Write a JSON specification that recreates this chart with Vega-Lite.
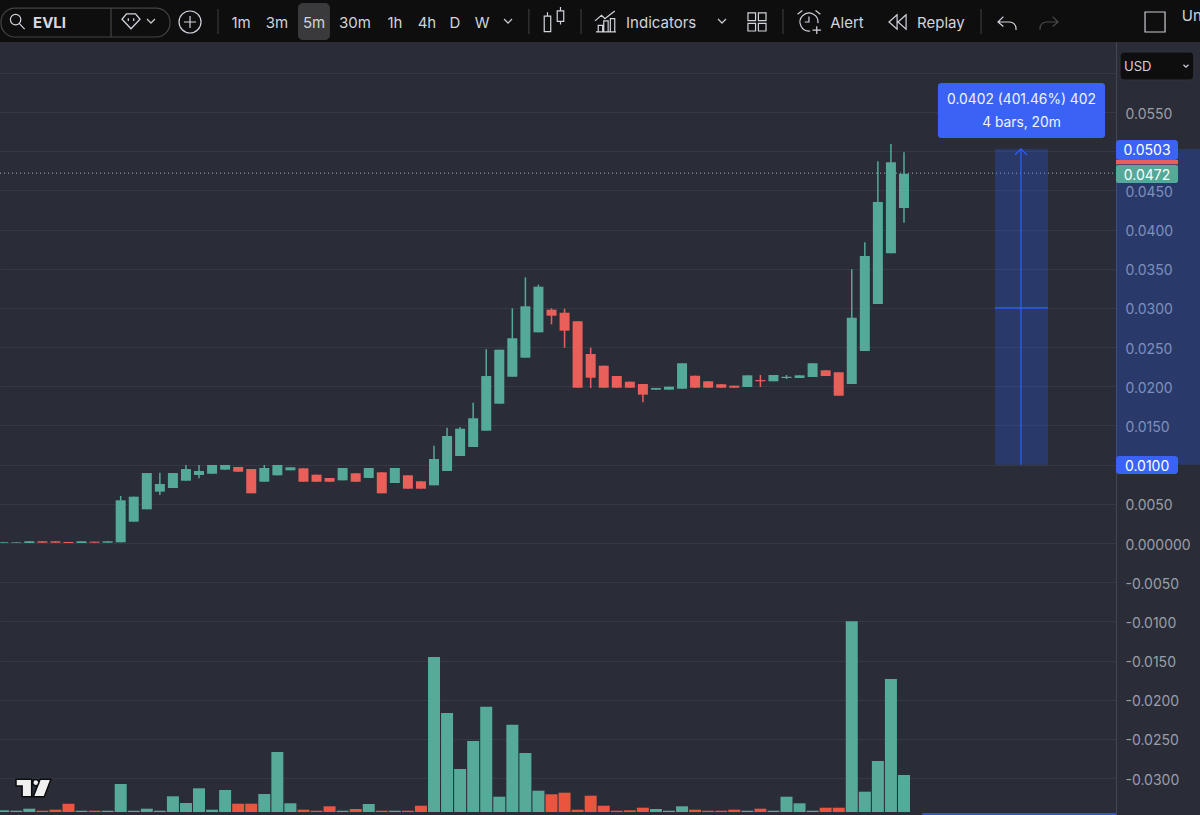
{
"$schema":"https://vega.github.io/schema/vega-lite/v6.json",
"width":1116,"height":815,"autosize":{"type":"none"},"padding":{"left":0,"top":0,"bottom":0,"right":84},
"background":"#2a2d38",
"config":{"view":{"stroke":null},"font":"Inter"},
"datasets":{
"candles":[
{"bar":0,"open":0.00001,"close":0.0001,"high":0.0001,"low":0.00001,"dir":"up"},
{"bar":1,"open":0,"close":0.00008,"high":0.00008,"low":0,"dir":"up"},
{"bar":2,"open":0,"close":0.00022,"high":0.00022,"low":0,"dir":"up"},
{"bar":3,"open":0.00022,"close":0.00004,"high":0.00022,"low":0.00004,"dir":"down"},
{"bar":4,"open":0.00022,"close":0.00004,"high":0.00022,"low":0.00004,"dir":"down"},
{"bar":5,"open":0.00013,"close":0,"high":0.00013,"low":0,"dir":"down"},
{"bar":6,"open":0,"close":0.00022,"high":0.00022,"low":0,"dir":"up"},
{"bar":7,"open":0.00017,"close":0.00004,"high":0.00017,"low":0.00004,"dir":"down"},
{"bar":8,"open":0.00004,"close":0.00022,"high":0.00022,"low":0.00004,"dir":"up"},
{"bar":9,"open":0.00009,"close":0.00545,"high":0.006,"low":0.00009,"dir":"up"},
{"bar":10,"open":0.00272,"close":0.00591,"high":0.00591,"low":0.00272,"dir":"up"},
{"bar":11,"open":0.0043,"close":0.00893,"high":0.00893,"low":0.0043,"dir":"up"},
{"bar":12,"open":0.00655,"close":0.00753,"high":0.00897,"low":0.00613,"dir":"up"},
{"bar":13,"open":0.00702,"close":0.00893,"high":0.00893,"low":0.00702,"dir":"up"},
{"bar":14,"open":0.00795,"close":0.00944,"high":0.00996,"low":0.00795,"dir":"up"},
{"bar":15,"open":0.00868,"close":0.00919,"high":0.00996,"low":0.00826,"dir":"up"},
{"bar":16,"open":0.00884,"close":0.00996,"high":0.00996,"low":0.00884,"dir":"up"},
{"bar":17,"open":0.00936,"close":0.00996,"high":0.00996,"low":0.00936,"dir":"up"},
{"bar":18,"open":0.0097,"close":0.0091,"high":0.0097,"low":0.0091,"dir":"down"},
{"bar":19,"open":0.00944,"close":0.00634,"high":0.00944,"low":0.00634,"dir":"down"},
{"bar":20,"open":0.00782,"close":0.00957,"high":0.00996,"low":0.00782,"dir":"up"},
{"bar":21,"open":0.00864,"close":0.00996,"high":0.00996,"low":0.00864,"dir":"up"},
{"bar":22,"open":0.00928,"close":0.00966,"high":0.00966,"low":0.00928,"dir":"up"},
{"bar":23,"open":0.00953,"close":0.00782,"high":0.00953,"low":0.00782,"dir":"down"},
{"bar":24,"open":0.00872,"close":0.00782,"high":0.00872,"low":0.00782,"dir":"down"},
{"bar":25,"open":0.0083,"close":0.00782,"high":0.0083,"low":0.00782,"dir":"down"},
{"bar":26,"open":0.008,"close":0.00957,"high":0.00957,"low":0.008,"dir":"up"},
{"bar":27,"open":0.0089,"close":0.00782,"high":0.0089,"low":0.00782,"dir":"down"},
{"bar":28,"open":0.0083,"close":0.00957,"high":0.00957,"low":0.0083,"dir":"up"},
{"bar":29,"open":0.00902,"close":0.00634,"high":0.00902,"low":0.00634,"dir":"down"},
{"bar":30,"open":0.00766,"close":0.00957,"high":0.00957,"low":0.00766,"dir":"up"},
{"bar":31,"open":0.00864,"close":0.00693,"high":0.00864,"low":0.00693,"dir":"down"},
{"bar":32,"open":0.00787,"close":0.00693,"high":0.00787,"low":0.00693,"dir":"down"},
{"bar":33,"open":0.00736,"close":0.01072,"high":0.01242,"low":0.00736,"dir":"up"},
{"bar":34,"open":0.00919,"close":0.01366,"high":0.01472,"low":0.00919,"dir":"up"},
{"bar":35,"open":0.0111,"close":0.01459,"high":0.0148,"low":0.0111,"dir":"up"},
{"bar":36,"open":0.01225,"close":0.01592,"high":0.01791,"low":0.01225,"dir":"up"},
{"bar":37,"open":0.01433,"close":0.02131,"high":0.02472,"low":0.01433,"dir":"up"},
{"bar":38,"open":0.01778,"close":0.02467,"high":0.02467,"low":0.01778,"dir":"up"},
{"bar":39,"open":0.02122,"close":0.02613,"high":0.02995,"low":0.02122,"dir":"up"},
{"bar":40,"open":0.02365,"close":0.03021,"high":0.03391,"low":0.02365,"dir":"up"},
{"bar":41,"open":0.02689,"close":0.03271,"high":0.03297,"low":0.02689,"dir":"up"},
{"bar":42,"open":0.02978,"close":0.02901,"high":0.02995,"low":0.02791,"dir":"down"},
{"bar":43,"open":0.02939,"close":0.0271,"high":0.0299,"low":0.02493,"dir":"down"},
{"bar":44,"open":0.0283,"close":0.01982,"high":0.0283,"low":0.01982,"dir":"down"},
{"bar":45,"open":0.02412,"close":0.0211,"high":0.02493,"low":0.01978,"dir":"down"},
{"bar":46,"open":0.02263,"close":0.01982,"high":0.02263,"low":0.01982,"dir":"down"},
{"bar":47,"open":0.02131,"close":0.01982,"high":0.02131,"low":0.01982,"dir":"down"},
{"bar":48,"open":0.02059,"close":0.01982,"high":0.02059,"low":0.01982,"dir":"down"},
{"bar":49,"open":0.02029,"close":0.01893,"high":0.02029,"low":0.01796,"dir":"down"},
{"bar":50,"open":0.01957,"close":0.01978,"high":0.01978,"low":0.01957,"dir":"up"},
{"bar":51,"open":0.01957,"close":0.01995,"high":0.01995,"low":0.01957,"dir":"up"},
{"bar":52,"open":0.01969,"close":0.02294,"high":0.02294,"low":0.01969,"dir":"up"},
{"bar":53,"open":0.02135,"close":0.01982,"high":0.02135,"low":0.01982,"dir":"down"},
{"bar":54,"open":0.02064,"close":0.01982,"high":0.02064,"low":0.01982,"dir":"down"},
{"bar":55,"open":0.02026,"close":0.01982,"high":0.02026,"low":0.01982,"dir":"down"},
{"bar":56,"open":0.02008,"close":0.01982,"high":0.02008,"low":0.01982,"dir":"down"},
{"bar":57,"open":0.01991,"close":0.0214,"high":0.0214,"low":0.01991,"dir":"up"},
{"bar":58,"open":0.0208,"close":0.02064,"high":0.02144,"low":0.01991,"dir":"down"},
{"bar":59,"open":0.02064,"close":0.02144,"high":0.02144,"low":0.02064,"dir":"up"},
{"bar":60,"open":0.02106,"close":0.02122,"high":0.02144,"low":0.02093,"dir":"up"},
{"bar":61,"open":0.02106,"close":0.0214,"high":0.0214,"low":0.02106,"dir":"up"},
{"bar":62,"open":0.02119,"close":0.02294,"high":0.02294,"low":0.02119,"dir":"up"},
{"bar":63,"open":0.02204,"close":0.02131,"high":0.02204,"low":0.02131,"dir":"down"},
{"bar":64,"open":0.02179,"close":0.0188,"high":0.02179,"low":0.0188,"dir":"down"},
{"bar":65,"open":0.02029,"close":0.02875,"high":0.03493,"low":0.02029,"dir":"up"},
{"bar":66,"open":0.0245,"close":0.03663,"high":0.03838,"low":0.0245,"dir":"up"},
{"bar":67,"open":0.0305,"close":0.04352,"high":0.04872,"low":0.0305,"dir":"up"},
{"bar":68,"open":0.03697,"close":0.04859,"high":0.05092,"low":0.03697,"dir":"up"},
{"bar":69,"open":0.04276,"close":0.04713,"high":0.04986,"low":0.04088,"dir":"up"}
],
"volume":[
{"bar":0,"volume":1.7,"dir":"up"},{"bar":1,"volume":1.3,"dir":"up"},{"bar":2,"volume":3.3,"dir":"up"},{"bar":3,"volume":1.3,"dir":"down"},{"bar":4,"volume":2.3,"dir":"down"},{"bar":5,"volume":8.3,"dir":"down"},{"bar":6,"volume":1.3,"dir":"up"},{"bar":7,"volume":1.3,"dir":"down"},{"bar":8,"volume":1.3,"dir":"up"},{"bar":9,"volume":28,"dir":"up"},
{"bar":10,"volume":1.3,"dir":"up"},{"bar":11,"volume":3.3,"dir":"up"},{"bar":12,"volume":1.3,"dir":"up"},{"bar":13,"volume":15.7,"dir":"up"},{"bar":14,"volume":9,"dir":"up"},{"bar":15,"volume":23.7,"dir":"up"},{"bar":16,"volume":2.3,"dir":"up"},{"bar":17,"volume":22,"dir":"up"},{"bar":18,"volume":8.3,"dir":"down"},{"bar":19,"volume":8.3,"dir":"down"},
{"bar":20,"volume":18,"dir":"up"},{"bar":21,"volume":60,"dir":"up"},{"bar":22,"volume":8.7,"dir":"up"},{"bar":23,"volume":2.3,"dir":"down"},{"bar":24,"volume":1.3,"dir":"down"},{"bar":25,"volume":5.7,"dir":"down"},{"bar":26,"volume":1.3,"dir":"up"},{"bar":27,"volume":3,"dir":"down"},{"bar":28,"volume":8,"dir":"up"},{"bar":29,"volume":1.3,"dir":"down"},
{"bar":30,"volume":1.3,"dir":"up"},{"bar":31,"volume":1.3,"dir":"down"},{"bar":32,"volume":6.3,"dir":"down"},{"bar":33,"volume":155,"dir":"up"},{"bar":34,"volume":99,"dir":"up"},{"bar":35,"volume":43,"dir":"up"},{"bar":36,"volume":71,"dir":"up"},{"bar":37,"volume":105.3,"dir":"up"},{"bar":38,"volume":15.3,"dir":"up"},{"bar":39,"volume":87.3,"dir":"up"},
{"bar":40,"volume":59,"dir":"up"},{"bar":41,"volume":21.3,"dir":"up"},{"bar":42,"volume":17.7,"dir":"down"},{"bar":43,"volume":19.3,"dir":"down"},{"bar":44,"volume":2.3,"dir":"down"},{"bar":45,"volume":16.3,"dir":"down"},{"bar":46,"volume":6.3,"dir":"down"},{"bar":47,"volume":1.3,"dir":"down"},{"bar":48,"volume":1.7,"dir":"down"},{"bar":49,"volume":4.3,"dir":"down"},
{"bar":50,"volume":3,"dir":"up"},{"bar":51,"volume":1.3,"dir":"up"},{"bar":52,"volume":5.7,"dir":"up"},{"bar":53,"volume":2.3,"dir":"down"},{"bar":54,"volume":1.3,"dir":"down"},{"bar":55,"volume":1.3,"dir":"down"},{"bar":56,"volume":2.3,"dir":"down"},{"bar":57,"volume":1.3,"dir":"up"},{"bar":58,"volume":3.3,"dir":"down"},{"bar":59,"volume":1.3,"dir":"up"},
{"bar":60,"volume":15.3,"dir":"up"},{"bar":61,"volume":8.7,"dir":"up"},{"bar":62,"volume":1.3,"dir":"up"},{"bar":63,"volume":4.3,"dir":"down"},{"bar":64,"volume":4.3,"dir":"down"},{"bar":65,"volume":190.7,"dir":"up"},{"bar":66,"volume":20.3,"dir":"up"},{"bar":67,"volume":51,"dir":"up"},{"bar":68,"volume":133,"dir":"up"},{"bar":69,"volume":37,"dir":"up"}
],
"icons":[
{"icon":"search","bar":1.06,"price":0.06662},
{"icon":"gem","bar":9.79,"price":0.06662},
{"icon":"chev","bar":11.32,"price":0.06662},
{"icon":"chev","bar":38.67,"price":0.06662},
{"icon":"chev","bar":55.06,"price":0.06662},
{"icon":"plus","bar":14.31,"price":0.0665},
{"icon":"candle","bar":42.19,"price":0.06675},
{"icon":"ind","bar":46.17,"price":0.0665},
{"icon":"grid","bar":57.74,"price":0.0665},
{"icon":"alarm","bar":61.72,"price":0.0665},
{"icon":"replay","bar":68.54,"price":0.0665},
{"icon":"undo","bar":76.89,"price":0.0665},
{"icon":"square","bar":88.23,"price":0.0665}
],
"toolbarText":[
{"label":"1m","bar":18.22,"price":0.0664},{"label":"3m","bar":20.97,"price":0.0664},{"label":"5m","bar":23.81,"price":0.0664},{"label":"30m","bar":26.95,"price":0.0664},{"label":"1h","bar":30.01,"price":0.0664},{"label":"4h","bar":32.46,"price":0.0664},{"label":"D","bar":34.61,"price":0.0664},{"label":"W","bar":36.68,"price":0.0664},{"label":"Indicators","bar":50.4,"price":0.0664},{"label":"Alert","bar":64.63,"price":0.0664},{"label":"Replay","bar":71.83,"price":0.0664},{"label":"Un","bar":91.05,"price":0.0673}
],
"seps":[{"bar":16.45,"price":0.06497,"price2":0.06816},{"bar":40.27,"price":0.06497,"price2":0.06816},{"bar":44.26,"price":0.06497,"price2":0.06816},{"bar":59.73,"price":0.06497,"price2":0.06816},{"bar":74.9,"price":0.06497,"price2":0.06816}]
},
"layer":[
{"data":{"name":"volume"},
 "mark":{"type":"bar","size":12,"orient":"vertical"},
 "encoding":{
  "x":{"field":"bar","type":"quantitative","scale":{"domain":[-0.245,85.24],"nice":false,"zero":false,"padding":0},"axis":null},
  "y":{"field":"volume","type":"quantitative","scale":{"domain":[-3,812],"nice":false,"zero":false},"axis":null},
  "y2":{"datum":0},
  "color":{"field":"dir","type":"nominal","scale":{"domain":["up","down"],"range":["#55ab98","#ea5540"]},"legend":null}
 }},
{"resolve":{"axis":{"y":"independent"}},
 "layer":[
 {"data":{"values":[{"kind":"last","price":0.0472,"bar":-0.245,"bar2":85.24}]},
  "mark":{"type":"rule","color":"#8cc0b4","strokeDash":[1,3],"strokeWidth":1},
  "encoding":{
   "x":{"field":"bar","type":"quantitative","scale":{"domain":[-0.245,85.24],"nice":false,"zero":false,"padding":0},"axis":null},
   "x2":{"field":"bar2"},
   "y":{"field":"price","type":"quantitative","scale":{"domain":[-0.034716,0.069305],"nice":false,"zero":false},
    "axis":{"orient":"right","title":null,"values":[-0.03,-0.025,-0.02,-0.015,-0.01,-0.005,0,0.005,0.01,0.015,0.02,0.025,0.03,0.035,0.04,0.045,0.05,0.055,0.06],
     "labelExpr":"abs(datum.value)<1e-9 ? '0.000000' : (datum.value>0.059 ? '' : replace(format(datum.value,'.4f'),'\u2212','-'))",
     "grid":true,"gridColor":"#363944","gridWidth":1,"ticks":false,"domain":true,"domainColor":"#444751","labelColor":"#9b9ea8","labelFont":"Inter","labelFontSize":14,"labelPadding":9,"labelOffset":2,"labelOverlap":false,"labelBound":false,"labelFlush":false}}
  }},
 {"data":{"values":[{"bar":75.97,"bar2":80.03,"price":0.0503,"price2":0.01},{"bar":85.24,"bar2":91.67,"price":0.0503,"price2":0.01}]},
  "mark":{"type":"rect","color":"#2962ff","opacity":0.25},
  "encoding":{
   "x":{"field":"bar","type":"quantitative","scale":{"domain":[-0.245,85.24],"nice":false,"zero":false,"padding":0},"axis":null},
   "x2":{"field":"bar2"},
   "y":{"field":"price","type":"quantitative","scale":{"domain":[-0.034716,0.069305],"nice":false,"zero":false},"axis":null},
   "y2":{"field":"price2"}
  }},
 {"data":{"values":[{"bar":77.96,"bar2":77.96,"price":0.0503,"price2":0.01},{"bar":75.97,"bar2":80.03,"price":0.03,"price2":0.03}]},
  "mark":{"type":"rule","color":"#2962ff","strokeWidth":1.2},
  "encoding":{
   "x":{"field":"bar","type":"quantitative","scale":{"domain":[-0.245,85.24],"nice":false,"zero":false,"padding":0},"axis":null},
   "x2":{"field":"bar2"},
   "y":{"field":"price","type":"quantitative","scale":{"domain":[-0.034716,0.069305],"nice":false,"zero":false},"axis":null},
   "y2":{"field":"price2"}
  }},
 {"data":{"values":[{"bar":77.96,"price":0.0503}]},
  "mark":{"type":"point","shape":"M-1,1L0,0L1,1","stroke":"#2962ff","strokeWidth":1.2,"fill":null,"size":144,"filled":false,"opacity":1},
  "encoding":{
   "x":{"field":"bar","type":"quantitative","scale":{"domain":[-0.245,85.24],"nice":false,"zero":false,"padding":0},"axis":null},
   "y":{"field":"price","type":"quantitative","scale":{"domain":[-0.034716,0.069305],"nice":false,"zero":false},"axis":null}
  }},
 {"data":{"name":"candles"},
  "mark":{"type":"rule","strokeWidth":1.5},
  "encoding":{
   "x":{"field":"bar","type":"quantitative","scale":{"domain":[-0.245,85.24],"nice":false,"zero":false,"padding":0},"axis":null},
   "y":{"field":"low","type":"quantitative","scale":{"domain":[-0.034716,0.069305],"nice":false,"zero":false},"axis":null},
   "y2":{"field":"high"},
   "color":{"field":"dir","type":"nominal","scale":{"domain":["up","down"],"range":["#54a998","#e9605a"]},"legend":null}
  }},
 {"data":{"name":"candles"},
  "mark":{"type":"bar","size":10,"orient":"vertical"},
  "encoding":{
   "x":{"field":"bar","type":"quantitative","scale":{"domain":[-0.245,85.24],"nice":false,"zero":false,"padding":0},"axis":null},
   "y":{"field":"open","type":"quantitative","scale":{"domain":[-0.034716,0.069305],"nice":false,"zero":false},"axis":null},
   "y2":{"field":"close"},
   "color":{"field":"dir","type":"nominal","scale":{"domain":["up","down"],"range":["#54a998","#e9605a"]},"legend":null}
  }},
 {"data":{"values":[{"bar":70.4,"bar2":85.24,"price":-0.0345,"price2":-0.0347}]},
  "mark":{"type":"rect","color":"#3a63f5"},
  "encoding":{
   "x":{"field":"bar","type":"quantitative","scale":{"domain":[-0.245,85.24],"nice":false,"zero":false,"padding":0},"axis":null},
   "x2":{"field":"bar2"},
   "y":{"field":"price","type":"quantitative","scale":{"domain":[-0.034716,0.069305],"nice":false,"zero":false},"axis":null},
   "y2":{"field":"price2"}
  }},
 {"data":{"values":[{"bar":-0.245,"bar2":91.67,"price":0.06394,"price2":0.069305}]},
  "mark":{"type":"rect","color":"#0e0e0f"},
  "encoding":{
   "x":{"field":"bar","type":"quantitative","scale":{"domain":[-0.245,85.24],"nice":false,"zero":false,"padding":0},"axis":null},
   "x2":{"field":"bar2"},
   "y":{"field":"price","type":"quantitative","scale":{"domain":[-0.034716,0.069305],"nice":false,"zero":false},"axis":null},
   "y2":{"field":"price2"}
  }},
 {"data":{"values":[{"bar":22.58,"bar2":25.03,"price":0.0642,"price2":0.06892}]},
  "mark":{"type":"rect","color":"#3a3a3c","cornerRadius":5},
  "encoding":{
   "x":{"field":"bar","type":"quantitative","scale":{"domain":[-0.245,85.24],"nice":false,"zero":false,"padding":0},"axis":null},
   "x2":{"field":"bar2"},
   "y":{"field":"price","type":"quantitative","scale":{"domain":[-0.034716,0.069305],"nice":false,"zero":false},"axis":null},
   "y2":{"field":"price2"}
  }},
 {"data":{"values":[{"bar":-0.17,"bar2":12.78,"price":0.06458,"price2":0.06828}]},
  "mark":{"type":"rect","fillOpacity":0,"stroke":"#444446","strokeWidth":1.2,"cornerRadius":14},
  "encoding":{
   "x":{"field":"bar","type":"quantitative","scale":{"domain":[-0.245,85.24],"nice":false,"zero":false,"padding":0},"axis":null},
   "x2":{"field":"bar2"},
   "y":{"field":"price","type":"quantitative","scale":{"domain":[-0.034716,0.069305],"nice":false,"zero":false},"axis":null},
   "y2":{"field":"price2"}
  }},
 {"data":{"values":[{"bar":8.26,"price":0.06458,"price2":0.06828}]},
  "mark":{"type":"rule","color":"#444446","strokeWidth":1.2},
  "encoding":{
   "x":{"field":"bar","type":"quantitative","scale":{"domain":[-0.245,85.24],"nice":false,"zero":false,"padding":0},"axis":null},
   "y":{"field":"price","type":"quantitative","scale":{"domain":[-0.034716,0.069305],"nice":false,"zero":false},"axis":null},
   "y2":{"field":"price2"}
  }},
 {"data":{"name":"seps"},
  "mark":{"type":"rule","color":"#3a3a3c","strokeWidth":1.2},
  "encoding":{
   "x":{"field":"bar","type":"quantitative","scale":{"domain":[-0.245,85.24],"nice":false,"zero":false,"padding":0},"axis":null},
   "y":{"field":"price","type":"quantitative","scale":{"domain":[-0.034716,0.069305],"nice":false,"zero":false},"axis":null},
   "y2":{"field":"price2"}
  }},
 {"data":{"name":"icons"},"transform":[{"filter":"datum.icon=='search'"}],
  "mark":{"type":"point","shape":"M.4,-.15A.55,.55 0 1 1 -.7,-.15A.55,.55 0 1 1 .4,-.15M.25,.28L.8,.85","stroke":"#d1d4dc","strokeWidth":1.2,"size":361,"filled":false,"opacity":1},
  "encoding":{
   "x":{"field":"bar","type":"quantitative","scale":{"domain":[-0.245,85.24],"nice":false,"zero":false,"padding":0},"axis":null},
   "y":{"field":"price","type":"quantitative","scale":{"domain":[-0.034716,0.069305],"nice":false,"zero":false},"axis":null}
  }},
 {"data":{"name":"icons"},"transform":[{"filter":"datum.icon=='gem'"}],
  "mark":{"type":"point","shape":"M-.5,-.8H.5L1,-.2L0,.85L-1,-.2ZM-.3,-.3V0M.3,-.3V0","stroke":"#d1d4dc","strokeWidth":1.3,"size":324,"filled":false,"opacity":1},
  "encoding":{
   "x":{"field":"bar","type":"quantitative","scale":{"domain":[-0.245,85.24],"nice":false,"zero":false,"padding":0},"axis":null},
   "y":{"field":"price","type":"quantitative","scale":{"domain":[-0.034716,0.069305],"nice":false,"zero":false},"axis":null}
  }},
 {"data":{"name":"icons"},"transform":[{"filter":"datum.icon=='chev'"}],
  "mark":{"type":"point","shape":"M-1,-.5L0,.5L1,-.5","stroke":"#c8cad0","strokeWidth":1.2,"size":64,"filled":false,"opacity":1},
  "encoding":{
   "x":{"field":"bar","type":"quantitative","scale":{"domain":[-0.245,85.24],"nice":false,"zero":false,"padding":0},"axis":null},
   "y":{"field":"price","type":"quantitative","scale":{"domain":[-0.034716,0.069305],"nice":false,"zero":false},"axis":null}
  }},
 {"data":{"name":"icons"},"transform":[{"filter":"datum.icon=='plus'"}],
  "mark":{"type":"point","shape":"M1,0A1,1 0 1 1 -1,0A1,1 0 1 1 1,0M-.55,0H.55M0,-.55V.55","stroke":"#d1d4dc","strokeWidth":1.2,"size":484,"filled":false,"opacity":1},
  "encoding":{
   "x":{"field":"bar","type":"quantitative","scale":{"domain":[-0.245,85.24],"nice":false,"zero":false,"padding":0},"axis":null},
   "y":{"field":"price","type":"quantitative","scale":{"domain":[-0.034716,0.069305],"nice":false,"zero":false},"axis":null}
  }},
 {"data":{"name":"icons"},"transform":[{"filter":"datum.icon=='candle'"}],
  "mark":{"type":"point","shape":"M-.75,-.3H-.25V.9H-.75ZM-.5,-.3V-.6M.25,-.7H.75V.1H.25ZM.5,-.7V-1M.5,.1V.35","stroke":"#d1d4dc","strokeWidth":1.2,"size":676,"filled":false,"opacity":1},
  "encoding":{
   "x":{"field":"bar","type":"quantitative","scale":{"domain":[-0.245,85.24],"nice":false,"zero":false,"padding":0},"axis":null},
   "y":{"field":"price","type":"quantitative","scale":{"domain":[-0.034716,0.069305],"nice":false,"zero":false},"axis":null}
  }},
 {"data":{"name":"icons"},"transform":[{"filter":"datum.icon=='ind'"}],
  "mark":{"type":"point","shape":"M-.9,.9H.9M-.7,.9V.3H-.3V.9M-.2,.9V-.1H.2V.9M.4,.9V-.3H.8V.9M-1,-.1L-.4,-.6L-.1,-.3L.8,-1","stroke":"#d1d4dc","strokeWidth":1.2,"size":484,"filled":false,"opacity":1},
  "encoding":{
   "x":{"field":"bar","type":"quantitative","scale":{"domain":[-0.245,85.24],"nice":false,"zero":false,"padding":0},"axis":null},
   "y":{"field":"price","type":"quantitative","scale":{"domain":[-0.034716,0.069305],"nice":false,"zero":false},"axis":null}
  }},
 {"data":{"name":"icons"},"transform":[{"filter":"datum.icon=='grid'"}],
  "mark":{"type":"point","shape":"M-.95,-.95H-.15V-.15H-.95ZM.15,-.95H.95V-.15H.15ZM-.95,.15H-.15V.95H-.95ZM.15,.15H.95V.95H.15Z","stroke":"#d1d4dc","strokeWidth":1.2,"size":361,"filled":false,"opacity":1},
  "encoding":{
   "x":{"field":"bar","type":"quantitative","scale":{"domain":[-0.245,85.24],"nice":false,"zero":false,"padding":0},"axis":null},
   "y":{"field":"price","type":"quantitative","scale":{"domain":[-0.034716,0.069305],"nice":false,"zero":false},"axis":null}
  }},
 {"data":{"name":"icons"},"transform":[{"filter":"datum.icon=='alarm'"}],
  "mark":{"type":"point","shape":"M.1,.75A.75,.75 0 1 1 .75,.1M0,-.45V0H-.35M-.95,-.65L-.55,-.95M.95,-.65L.55,-.95M.65,.35V1M.3,.68H1","stroke":"#d1d4dc","strokeWidth":1.2,"size":576,"filled":false,"opacity":1},
  "encoding":{
   "x":{"field":"bar","type":"quantitative","scale":{"domain":[-0.245,85.24],"nice":false,"zero":false,"padding":0},"axis":null},
   "y":{"field":"price","type":"quantitative","scale":{"domain":[-0.034716,0.069305],"nice":false,"zero":false},"axis":null}
  }},
 {"data":{"name":"icons"},"transform":[{"filter":"datum.icon=='replay'"}],
  "mark":{"type":"point","shape":"M-.1,-.8L-1,0L-.1,.8ZM.9,-.8L0,0L.9,.8Z","stroke":"#d1d4dc","strokeWidth":1.2,"size":324,"filled":false,"opacity":1},
  "encoding":{
   "x":{"field":"bar","type":"quantitative","scale":{"domain":[-0.245,85.24],"nice":false,"zero":false,"padding":0},"axis":null},
   "y":{"field":"price","type":"quantitative","scale":{"domain":[-0.034716,0.069305],"nice":false,"zero":false},"axis":null}
  }},
 {"data":{"name":"icons"},"transform":[{"filter":"datum.icon=='undo'"}],
  "mark":{"type":"point","shape":"M-.4,-.6L-1,0L-.4,.5M-1,0H.3A.7,.7 0 0 1 1,.7V.9","stroke":"#d1d4dc","strokeWidth":1.2,"size":324,"filled":false,"opacity":1},
  "encoding":{
   "x":{"field":"bar","type":"quantitative","scale":{"domain":[-0.245,85.24],"nice":false,"zero":false,"padding":0},"axis":null},
   "y":{"field":"price","type":"quantitative","scale":{"domain":[-0.034716,0.069305],"nice":false,"zero":false},"axis":null}
  }},
 {"data":{"values":[{"bar":80.11,"price":0.0665}]},
  "mark":{"type":"point","shape":"M.4,-.6L1,0L.4,.5M1,0H-.3A.7,.7 0 0 0 -1,.7V.9","stroke":"#4a4a4c","strokeWidth":1.2,"size":324,"filled":false,"opacity":1},
  "encoding":{
   "x":{"field":"bar","type":"quantitative","scale":{"domain":[-0.245,85.24],"nice":false,"zero":false,"padding":0},"axis":null},
   "y":{"field":"price","type":"quantitative","scale":{"domain":[-0.034716,0.069305],"nice":false,"zero":false},"axis":null}
  }},
 {"data":{"name":"icons"},"transform":[{"filter":"datum.icon=='square'"}],
  "mark":{"type":"point","shape":"M-1,-1H1V1H-1Z","stroke":"#c8cad0","strokeWidth":1.2,"size":400,"filled":false,"opacity":1},
  "encoding":{
   "x":{"field":"bar","type":"quantitative","scale":{"domain":[-0.245,85.24],"nice":false,"zero":false,"padding":0},"axis":null},
   "y":{"field":"price","type":"quantitative","scale":{"domain":[-0.034716,0.069305],"nice":false,"zero":false},"axis":null}
  }},
 {"data":{"name":"toolbarText"},
  "mark":{"type":"text","font":"Inter","fontSize":15,"color":"#d1d4dc","align":"center","baseline":"middle"},
  "encoding":{
   "x":{"field":"bar","type":"quantitative","scale":{"domain":[-0.245,85.24],"nice":false,"zero":false,"padding":0},"axis":null},
   "y":{"field":"price","type":"quantitative","scale":{"domain":[-0.034716,0.069305],"nice":false,"zero":false},"axis":null},
   "text":{"field":"label"}
  }},
 {"data":{"values":[{"label":"EVLI","bar":3.55,"price":0.0664}]},
  "mark":{"type":"text","font":"Inter","fontSize":15,"fontWeight":"bold","color":"#d8dae0","align":"center","baseline":"middle"},
  "encoding":{
   "x":{"field":"bar","type":"quantitative","scale":{"domain":[-0.245,85.24],"nice":false,"zero":false,"padding":0},"axis":null},
   "y":{"field":"price","type":"quantitative","scale":{"domain":[-0.034716,0.069305],"nice":false,"zero":false},"axis":null},
   "text":{"field":"label"}
  }},
 {"data":{"values":[{"bar":85.55,"bar2":91.2,"price":0.0591,"price2":0.06267}]},
  "mark":{"type":"rect","color":"#0e0e0f","stroke":"#33353c","strokeWidth":1,"cornerRadius":4},
  "encoding":{
   "x":{"field":"bar","type":"quantitative","scale":{"domain":[-0.245,85.24],"nice":false,"zero":false,"padding":0},"axis":null},
   "x2":{"field":"bar2"},
   "y":{"field":"price","type":"quantitative","scale":{"domain":[-0.034716,0.069305],"nice":false,"zero":false},"axis":null},
   "y2":{"field":"price2"}
  }},
 {"data":{"values":[{"label":"USD","bar":86.9,"price":0.06075}]},
  "mark":{"type":"text","font":"Inter","fontSize":13,"color":"#d1d4dc","align":"center","baseline":"middle"},
  "encoding":{
   "x":{"field":"bar","type":"quantitative","scale":{"domain":[-0.245,85.24],"nice":false,"zero":false,"padding":0},"axis":null},
   "y":{"field":"price","type":"quantitative","scale":{"domain":[-0.034716,0.069305],"nice":false,"zero":false},"axis":null},
   "text":{"field":"label"}
  }},
 {"data":{"values":[{"bar":90.6,"price":0.06088}]},
  "mark":{"type":"point","shape":"M-1,-.5L0,.5L1,-.5","stroke":"#d1d4dc","strokeWidth":1.2,"size":25,"filled":false,"opacity":1},
  "encoding":{
   "x":{"field":"bar","type":"quantitative","scale":{"domain":[-0.245,85.24],"nice":false,"zero":false,"padding":0},"axis":null},
   "y":{"field":"price","type":"quantitative","scale":{"domain":[-0.034716,0.069305],"nice":false,"zero":false},"axis":null}
  }},
 {"data":{"values":[{"bar":71.6,"bar2":84.4,"price":0.05871,"price2":0.05169,"tip":"tooltip"},{"bar":85.24,"bar2":89.99,"price":0.05144,"price2":0.04888,"tip":"tag"},{"bar":85.24,"bar2":89.99,"price":0.0111,"price2":0.0088,"tip":"tag"}]},
  "mark":{"type":"rect","color":"#3a63f5","cornerRadius":3},
  "encoding":{
   "x":{"field":"bar","type":"quantitative","scale":{"domain":[-0.245,85.24],"nice":false,"zero":false,"padding":0},"axis":null},
   "x2":{"field":"bar2"},
   "y":{"field":"price","type":"quantitative","scale":{"domain":[-0.034716,0.069305],"nice":false,"zero":false},"axis":null},
   "y2":{"field":"price2"}
  }},
 {"data":{"values":[{"bar":85.24,"bar2":89.99,"price":0.04888,"price2":0.04833}]},
  "mark":{"type":"rect","color":"#e9605a"},
  "encoding":{
   "x":{"field":"bar","type":"quantitative","scale":{"domain":[-0.245,85.24],"nice":false,"zero":false,"padding":0},"axis":null},
   "x2":{"field":"bar2"},
   "y":{"field":"price","type":"quantitative","scale":{"domain":[-0.034716,0.069305],"nice":false,"zero":false},"axis":null},
   "y2":{"field":"price2"}
  }},
 {"data":{"values":[{"bar":85.24,"bar2":89.99,"price":0.04824,"price2":0.04595}]},
  "mark":{"type":"rect","color":"#54a998","cornerRadius":2},
  "encoding":{
   "x":{"field":"bar","type":"quantitative","scale":{"domain":[-0.245,85.24],"nice":false,"zero":false,"padding":0},"axis":null},
   "x2":{"field":"bar2"},
   "y":{"field":"price","type":"quantitative","scale":{"domain":[-0.034716,0.069305],"nice":false,"zero":false},"axis":null},
   "y2":{"field":"price2"}
  }},
 {"data":{"values":[{"label":"0.0503","bar":87.62,"price":0.04997},{"label":"0.0472","bar":87.62,"price":0.0469},{"label":"0.0100","bar":87.62,"price":0.00975}]},
  "mark":{"type":"text","font":"Inter","fontSize":14,"color":"#ffffff","align":"center","baseline":"middle"},
  "encoding":{
   "x":{"field":"bar","type":"quantitative","scale":{"domain":[-0.245,85.24],"nice":false,"zero":false,"padding":0},"axis":null},
   "y":{"field":"price","type":"quantitative","scale":{"domain":[-0.034716,0.069305],"nice":false,"zero":false},"axis":null},
   "text":{"field":"label"}
  }},
 {"data":{"values":[{"label":"0.0402 (401.46%) 402","bar":78,"price":0.05654},{"label":"4 bars, 20m","bar":78,"price":0.0536}]},
  "mark":{"type":"text","font":"Inter","fontSize":13.8,"color":"#f2f4ff","align":"center","baseline":"middle"},
  "encoding":{
   "x":{"field":"bar","type":"quantitative","scale":{"domain":[-0.245,85.24],"nice":false,"zero":false,"padding":0},"axis":null},
   "y":{"field":"price","type":"quantitative","scale":{"domain":[-0.034716,0.069305],"nice":false,"zero":false},"axis":null},
   "text":{"field":"label"}
  }},
 {"data":{"values":[{"brand":"logo","bar":2.36,"price":-0.03127}]},
  "mark":{"type":"point","shape":"M-1,-.49H-.13V.49H-.66V-.11H-1ZM.27,-.3A.17,.17 0 1 1 -.07,-.3A.17,.17 0 1 1 .27,-.3ZM.34,-.49H.94L.57,.49H-.04Z","fill":"#f0f0f0","stroke":"#0b0b0c","strokeWidth":1.5,"size":1296,"filled":true,"opacity":1},
  "encoding":{
   "x":{"field":"bar","type":"quantitative","scale":{"domain":[-0.245,85.24],"nice":false,"zero":false,"padding":0},"axis":null},
   "y":{"field":"price","type":"quantitative","scale":{"domain":[-0.034716,0.069305],"nice":false,"zero":false},"axis":null}
  }}
]}
],
"resolve":{"scale":{"y":"independent","color":"independent"}}
}
